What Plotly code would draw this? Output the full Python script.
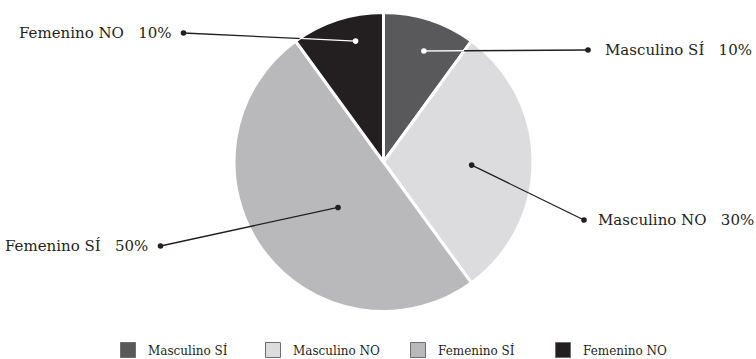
import math
import plotly.graph_objects as go

# Survey answers split by sex
categories = ["Masculino SÍ", "Masculino NO", "Femenino SÍ", "Femenino NO"]
percentages = [10, 30, 50, 10]
colors = ["#59595b", "#dcdcde", "#b9b9bc", "#231f20"]

W, H = 756, 359
CX, CY, R = 383.5, 162.0, 149.5          # pie centre and radius in px
SERIF = "DejaVu Serif"
INK = "#231f20"
GAP = "\u00a0\u00a0\u00a0"                # wide gap between name and percentage

# Leader line layout: inner anchor (radius fraction, angle tweak in deg),
# outer end point (px), label offset from that point and text side
inner_r = [0.79, 0.59, 0.43, 0.83]
angle_tweak = [2, 2, -9, 5]
outer_pt = [(588, 50), (584, 220), (160.5, 246), (183.5, 33)]
text_offset = [15, 12, -11, -10]
dark_slice = [True, False, False, True]

fig = go.Figure()

fig.add_trace(go.Pie(
    labels=categories,
    values=percentages,
    sort=False,
    direction="clockwise",
    rotation=0,
    textinfo="none",
    hoverinfo="label+percent",
    marker=dict(colors=colors, line=dict(color="white", width=3)),
    domain=dict(x=[(CX - R) / W, (CX + R) / W],
                y=[(H - CY - R) / H, (H - CY + R) / H]),
    showlegend=False,
))

# Legend entries with outlined swatches
for name, col in zip(categories, colors):
    fig.add_trace(go.Scatter(
        x=[None], y=[None], mode="markers", name=name,
        marker=dict(symbol="square", size=15, color=col,
                    line=dict(color="#6e6e70", width=1)),
        hoverinfo="skip",
    ))

total = sum(percentages)
start = 0.0
annotations = []
shapes = []


def dot(x, y, color, r=2.8):
    return dict(type="circle", xref="x", yref="y", layer="above",
                x0=x - r, x1=x + r, y0=y - r, y1=y + r,
                fillcolor=color, line=dict(width=0))


for i, (name, pct) in enumerate(zip(categories, percentages)):
    span = 360.0 * pct / total
    a0, a1 = start, start + span
    start = a1
    mid = math.radians((a0 + a1) / 2 + angle_tweak[i])
    ix = CX + R * inner_r[i] * math.sin(mid)
    iy = CY - R * inner_r[i] * math.cos(mid)
    ox, oy = outer_pt[i]

    # black leader from anchor to label
    shapes.append(dict(type="line", xref="x", yref="y", layer="above",
                       x0=ix, y0=iy, x1=ox, y1=oy,
                       line=dict(color=INK, width=1.3)))

    # inside a dark slice the leader is drawn white up to the slice edge
    if dark_slice[i]:
        n = 400
        ex, ey = ix, iy
        for k in range(n + 1):
            t = k / n
            px = ix + (ox - ix) * t
            py = iy + (oy - iy) * t
            dx, dy = px - CX, CY - py
            rr = math.hypot(dx, dy)
            ang = math.degrees(math.atan2(dx, dy)) % 360
            if rr > R or not (a0 <= ang <= a1):
                break
            ex, ey = px, py
        shapes.append(dict(type="line", xref="x", yref="y", layer="above",
                           x0=ix, y0=iy, x1=ex, y1=ey,
                           line=dict(color="white", width=1.3)))

    shapes.append(dot(ix, iy, "white" if dark_slice[i] else INK))
    shapes.append(dot(ox, oy, INK))

    off = text_offset[i]
    annotations.append(dict(
        x=ox + off, y=oy, xref="x", yref="y", showarrow=False,
        text=f"{name}{GAP}{pct}%",
        xanchor="left" if off > 0 else "right", yanchor="middle",
        font=dict(family=SERIF, size=15, color=INK)))

fig.update_layout(
    width=W, height=H,
    margin=dict(l=0, r=0, t=0, b=0, autoexpand=False),
    paper_bgcolor="white", plot_bgcolor="white",
    xaxis=dict(range=[0, W], visible=False, fixedrange=True),
    yaxis=dict(range=[H, 0], visible=False, fixedrange=True),
    annotations=annotations,
    shapes=shapes,
    showlegend=True,
    legend=dict(
        orientation="h",
        x=108 / W, y=(H - 350) / H,
        xanchor="left", yanchor="middle",
        entrywidth=100, entrywidthmode="pixels",
        font=dict(family=SERIF, size=12, color=INK),
        itemsizing="trace",
    ),
)

fig.write_html("out.html")
